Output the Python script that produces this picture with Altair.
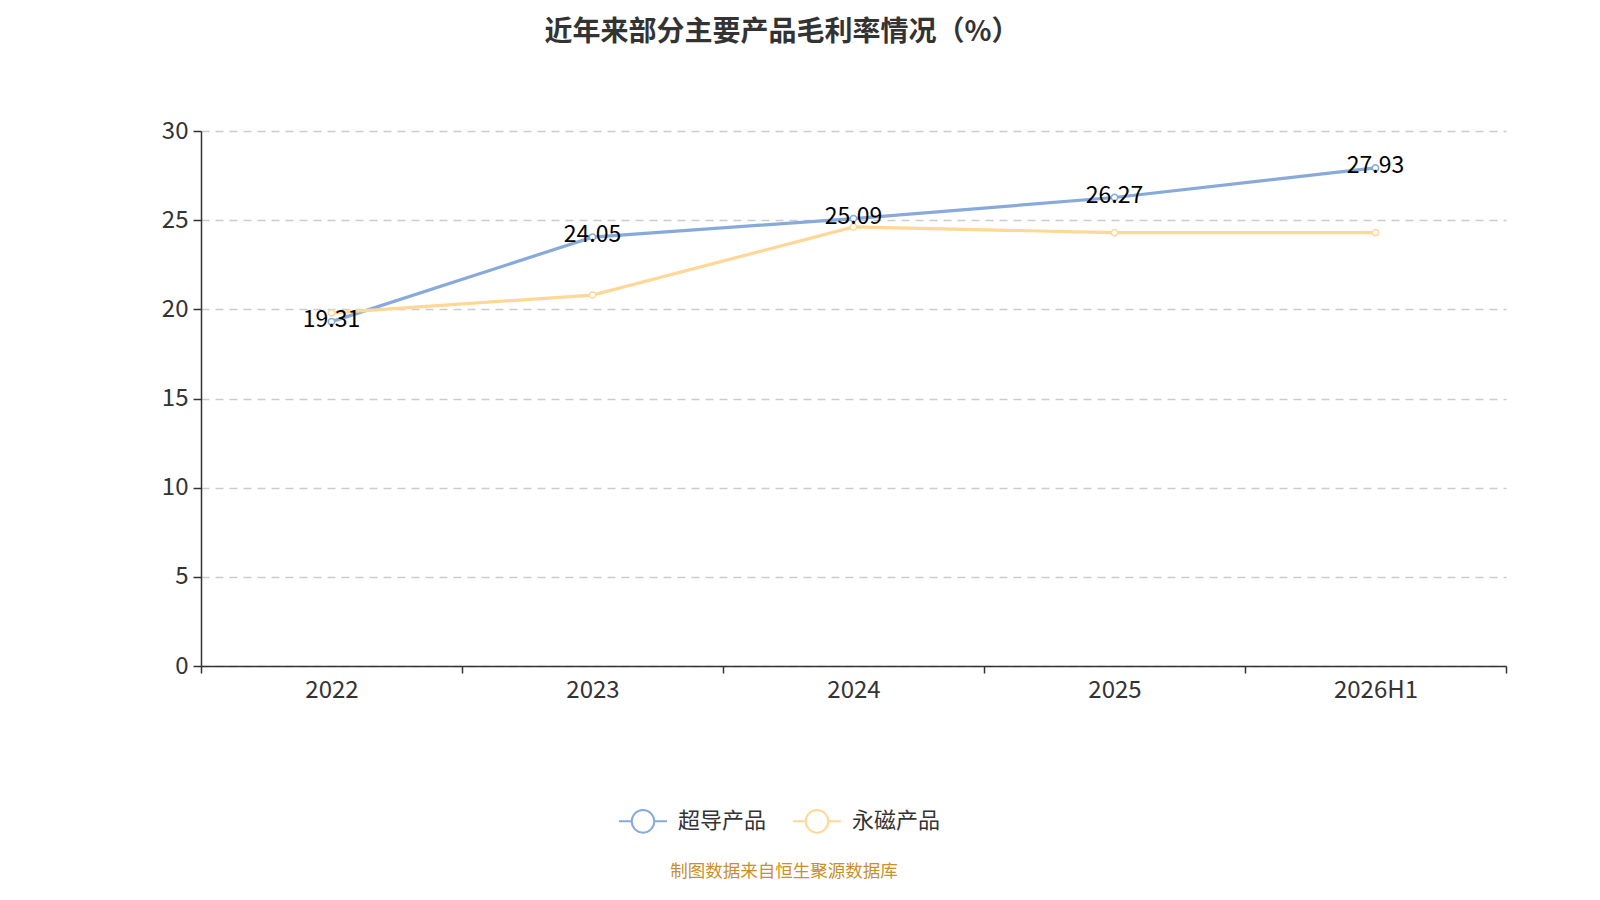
import altair as alt
import pandas as pd

years = ["2022", "2023", "2024", "2025", "2026H1"]
series_names = ["超导产品", "永磁产品"]
superconduct = [19.31, 24.05, 25.09, 26.27, 27.93]
permanent_mag = [19.8, 20.8, 24.62, 24.3, 24.3]
colors = ["#88aadb", "#ffd796"]
title_text = "近年来部分主要产品毛利率情况（%）"
source_text = "制图数据来自恒生聚源数据库"

rows = []
for name, vals in zip(series_names, [superconduct, permanent_mag]):
    for y, v in zip(years, vals):
        rows.append({"year": y, "series": name, "value": v, "order": series_names.index(name)})
df = pd.DataFrame(rows)
label_df = df[df["series"] == series_names[0]]

FONT = "Noto Sans CJK SC"
W, H = 1305, 535

xenc = alt.X("year:N", sort=years, scale=alt.Scale(paddingInner=0, paddingOuter=0),
             axis=alt.Axis(title=None, labelAngle=0, labelFontSize=24, labelColor="#333",
                           labelFont=FONT, tickBand="extent", tickSize=7, tickColor="#333",
                           tickWidth=1.5, domainColor="#333", domainWidth=1.5,
                           labelPadding=5, grid=False))
yenc = alt.Y("value:Q", scale=alt.Scale(domain=[0, 30]),
             axis=alt.Axis(title=None, values=[0, 5, 10, 15, 20, 25, 30], labelFontSize=24,
                           labelColor="#333", labelFont=FONT, tickSize=8, tickColor="#333",
                           tickWidth=1.5, domainColor="#333", domainWidth=1.5,
                           labelPadding=5, grid=True, gridColor="#cccccc", gridDash=[8, 6],
                           gridWidth=1.5))
color = alt.Color("series:N", scale=alt.Scale(domain=series_names, range=colors),
                  legend=alt.Legend(title=None, orient="none", direction="horizontal",
                                    legendX=417, legendY=665, labelFontSize=22,
                                    labelColor="#333", labelFont=FONT,
                                    symbolType="M-1,0L-0.47,0M0.47,0L1,0M0.47,0A0.47,0.47,0,1,1,-0.47,0A0.47,0.47,0,1,1,0.47,0Z",
                                    symbolSize=2304, symbolStrokeWidth=2, symbolFillColor="white",
                                    labelOffset=10, columnPadding=22))

lines = alt.Chart(df).mark_line(strokeWidth=3.2).encode(
    x=xenc, y=yenc, color=color, detail="series:N", order="order:Q")
points = alt.Chart(df).mark_point(filled=True, fill="white", size=40, strokeWidth=1.5, opacity=1).encode(
    x=xenc, y=yenc, stroke=alt.Stroke("series:N", scale=alt.Scale(domain=series_names, range=colors), legend=None))
labels = alt.Chart(label_df).mark_text(fontSize=23, color="#000", font=FONT, dy=-2, baseline="middle").encode(
    x=xenc, y=yenc, text=alt.Text("value:Q", format=".2f"))

title = alt.Chart(pd.DataFrame({"t": [title_text]})).mark_text(
    fontSize=28, fontWeight="bold", color="#333", font=FONT, baseline="middle", align="center").encode(
    x=alt.value(581), y=alt.value(-98), text="t:N")
source = alt.Chart(pd.DataFrame({"t": [source_text]})).mark_text(
    fontSize=17.5, color="#c9902a", font=FONT, baseline="middle", align="center").encode(
    x=alt.value(583), y=alt.value(741), text="t:N")

chart = alt.layer(lines, points, labels, title, source).properties(
    width=W, height=H,
    autosize=alt.AutoSizeParams(type="none"),
    padding={"left": 193, "top": 123, "right": 86, "bottom": 226},
).configure(background="white").configure_view(stroke=None)

chart.save("out.html", embed_options={"renderer": "svg", "actions": False})
